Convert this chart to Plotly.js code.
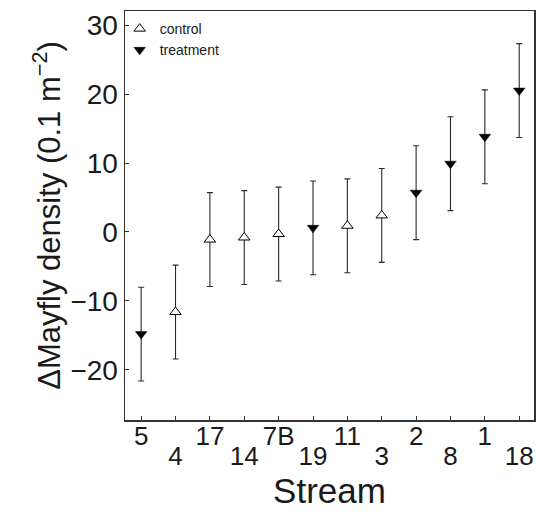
<!DOCTYPE html>
<html>
<head>
<meta charset="utf-8">
<script src="https://cdn.plot.ly/plotly-3.0.1.min.js"></script>
<style>html,body{margin:0;padding:0;background:#fff;}#chart{width:536px;height:518px;}</style>
</head>
<body>
<div id="chart"></div>
<script>
// Streams in plotted order
const streams = ["5","4","17","14","7B","19","11","3","2","8","1","18"];
const group   = ["treatment","control","control","control","control","treatment","control","control","treatment","treatment","treatment","treatment"];
const delta   = [-14.8,-11.6,-1.1,-0.8,-0.3,0.6,0.9,2.4,5.7,9.9,13.8,20.5];
const errHalf = [6.8,6.8,6.8,6.8,6.8,6.8,6.8,6.8,6.8,6.8,6.8,6.8];
const yTicks  = [-20,-10,0,10,20,30];

const idx = streams.map((s,i)=>i);
function pick(g){
  const ii = idx.filter(i=>group[i]===g);
  return {x: ii, y: ii.map(i=>delta[i]), e: ii.map(i=>errHalf[i])};
}
const c = pick("control"), t = pick("treatment");
const errStyle = (arr)=>({type:'data', array:arr, visible:true, color:'#2a2a2a', thickness:1.1, width:3});

const font = "Liberation Sans, Arial, Helvetica, sans-serif";
const traces = [
  {x:c.x, y:c.y, name:'control', type:'scatter', mode:'markers', xaxis:'x', yaxis:'y',
   marker:{symbol:'triangle-up', size:10, color:'#ffffff', line:{color:'#000', width:1}},
   error_y:errStyle(c.e)},
  {x:t.x, y:t.y, name:'treatment', type:'scatter', mode:'markers', xaxis:'x2', yaxis:'y',
   marker:{symbol:'triangle-down', size:10, color:'#000', line:{color:'#000', width:0.5}},
   error_y:errStyle(t.e)}
];

const evenVals = idx.filter(i=>i%2===0), oddVals = idx.filter(i=>i%2===1);
const xr = [-0.47,11.43];
const layout = {
  width:536, height:518,
  margin:{l:125, r:2, t:11, b:98},
  paper_bgcolor:'#fff', plot_bgcolor:'#fff',
  font:{family:font, color:'#1a1a1a'},
  showlegend:true,
  legend:{x:-0.013, y:0.995, xanchor:'left', yanchor:'top', bgcolor:'rgba(0,0,0,0)',
          font:{size:14, family:font, color:'#1a1a1a'}, itemwidth:30, tracegroupgap:0},
  xaxis:{range:xr, tickmode:'array', tickvals:evenVals,
         ticktext:evenVals.map(i=>streams[i]),
         ticks:'inside', ticklen:4, tickcolor:'#333', tickwidth:1,
         showline:true, mirror:true, linecolor:'#333', linewidth:1.5,
         showgrid:false, zeroline:false, ticklabelstandoff:-8,
         tickfont:{size:26, family:font, color:'#1a1a1a'},
         automargin:false},
  xaxis2:{overlaying:'x', anchor:'y', side:'bottom', range:xr, tickmode:'array',
         tickvals:oddVals, ticktext:oddVals.map(i=>streams[i]),
         ticks:'inside', ticklen:4, tickcolor:'#333', tickwidth:1, showline:false,
         showgrid:false, zeroline:false, ticklabelstandoff:18,
         tickfont:{size:26, family:font, color:'#1a1a1a'},
         title:{text:'Stream', font:{size:35, family:font, color:'#1a1a1a'}, standoff:5},
         automargin:false},
  yaxis:{range:[-27.25,32.03], tickmode:'array', tickvals:yTicks,
         ticks:'inside', ticklen:4, tickcolor:'#333', tickwidth:1,
         showline:true, mirror:true, linecolor:'#333', linewidth:1.5,
         showgrid:false, zeroline:false, tickfont:{size:28, family:font, color:'#1a1a1a'},
         title:{text:'\u00a0\u00a0\u00a0\u0394Mayfly density (0.1 m<sup>\u22122</sup>)', font:{size:31, family:font, color:'#1a1a1a'}, standoff:0},
         automargin:false}
};
Plotly.newPlot('chart', traces, layout, {displayModeBar:false, staticPlot:true});
</script>
</body>
</html>
